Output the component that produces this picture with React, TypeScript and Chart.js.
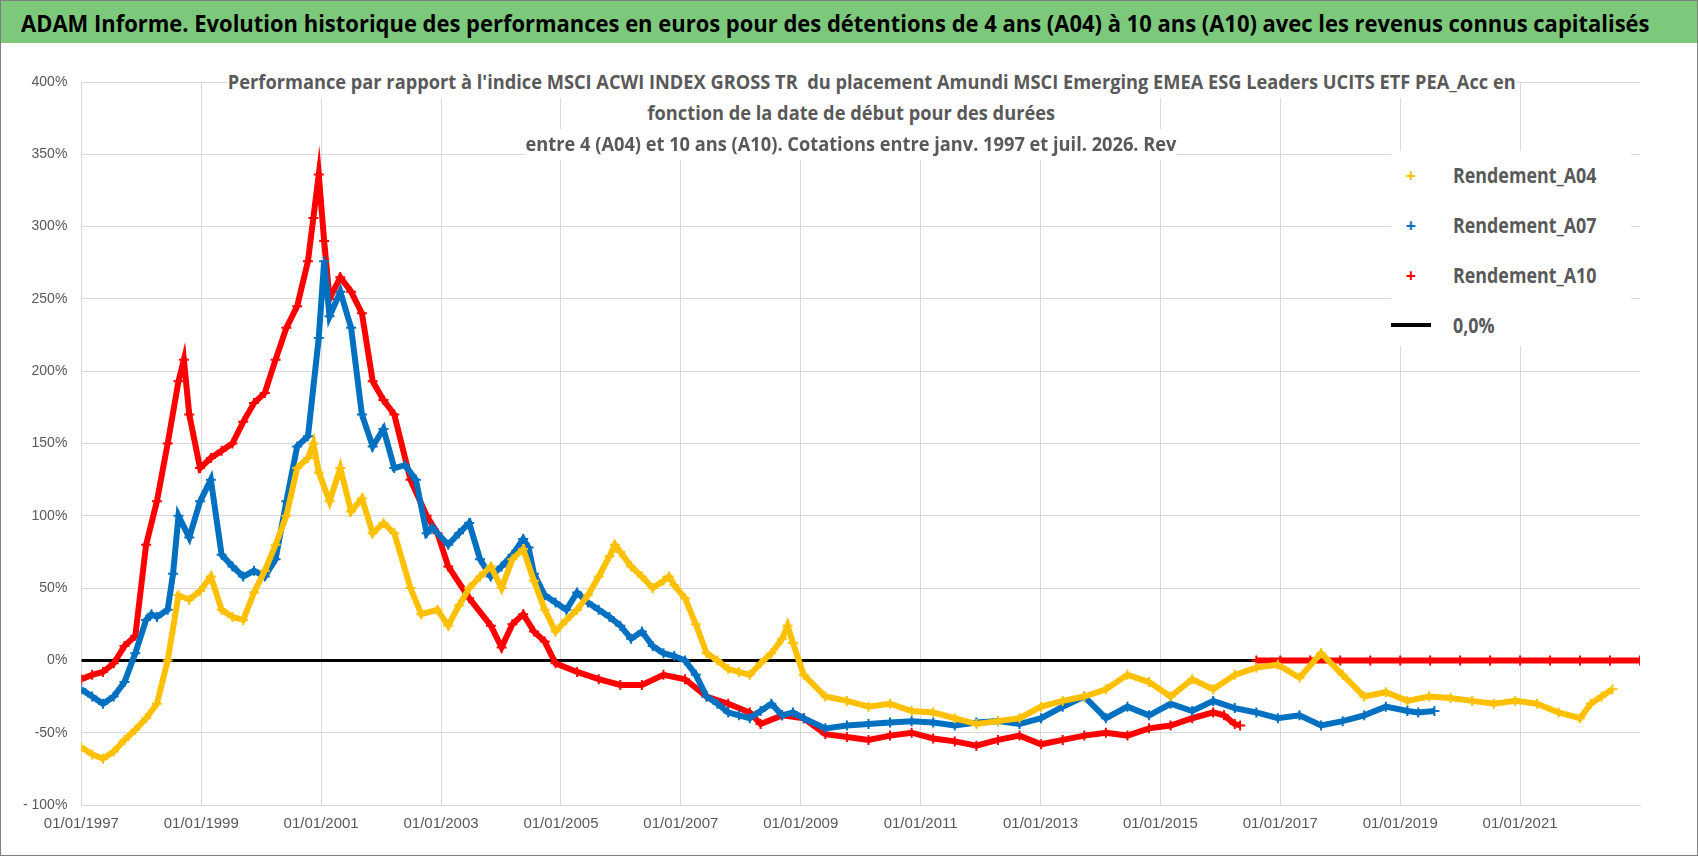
import { useEffect, useRef } from 'react';
import Chart from 'chart.js/auto';

// years from 01/01/1997, values in %
const yearsA04 = [0, 0.18, 0.36, 0.54, 0.72, 0.9, 1.08, 1.26, 1.44, 1.62, 1.8, 1.98, 2.16, 2.34, 2.52, 2.7, 2.88, 3.06, 3.24, 3.42, 3.6, 3.78, 3.87, 3.96, 4.14, 4.32, 4.5, 4.68, 4.86, 5.04, 5.22, 5.49, 5.67, 5.94, 6.12, 6.3, 6.47, 6.65, 6.83, 7.01, 7.19, 7.37, 7.55, 7.73, 7.91, 8.09, 8.27, 8.45, 8.63, 8.81, 8.9, 8.99, 9.17, 9.35, 9.53, 9.71, 9.8, 9.89, 10.07, 10.25, 10.43, 10.61, 10.79, 10.97, 11.15, 11.33, 11.51, 11.69, 11.78, 11.87, 12.05, 12.41, 12.77, 13.13, 13.49, 13.85, 14.21, 14.57, 14.93, 15.29, 15.65, 16.01, 16.37, 16.73, 17.09, 17.45, 17.81, 18.17, 18.53, 18.88, 19.24, 19.6, 19.96, 20.32, 20.68, 21.04, 21.4, 21.76, 22.12, 22.48, 22.84, 23.2, 23.56, 23.92, 24.28, 24.64, 25.0, 25.18, 25.36, 25.54];
const valuesA04 = [-60, -65, -68, -63, -55, -48, -40, -30, 0, 45, 42, 48, 58, 35, 30, 28, 47, 62, 80, 100, 133, 140, 150, 130, 110, 133, 103, 112, 88, 95, 88, 50, 32, 35, 24, 38, 50, 58, 65, 50, 70, 77, 55, 35, 20, 28, 35, 45, 58, 72, 80, 75, 65, 58, 50, 55, 58, 52, 43, 25, 5, 0, -6, -8, -10, -2, 5, 15, 24, 12, -10, -25, -28, -32, -30, -35, -36, -40, -44, -42, -40, -32, -28, -25, -20, -10, -15, -25, -13, -20, -10, -5, -3, -12, 5, -10, -25, -22, -28, -25, -26, -28, -30, -28, -30, -36, -40, -30, -25, -20, -13, -8, -22];
const yearsA07 = [0, 0.18, 0.36, 0.54, 0.72, 0.9, 1.08, 1.17, 1.26, 1.44, 1.53, 1.62, 1.8, 1.98, 2.16, 2.34, 2.52, 2.7, 2.88, 3.06, 3.24, 3.42, 3.6, 3.78, 3.96, 4.05, 4.14, 4.32, 4.5, 4.68, 4.86, 5.04, 5.22, 5.4, 5.58, 5.76, 5.85, 6.12, 6.3, 6.47, 6.65, 6.83, 7.01, 7.19, 7.37, 7.46, 7.55, 7.73, 7.91, 8.09, 8.27, 8.45, 8.63, 8.81, 8.99, 9.17, 9.35, 9.53, 9.71, 9.89, 10.07, 10.25, 10.43, 10.61, 10.79, 10.97, 11.15, 11.33, 11.51, 11.69, 11.87, 12.05, 12.41, 12.77, 13.13, 13.49, 13.85, 14.21, 14.57, 14.93, 15.29, 15.65, 16.01, 16.37, 16.73, 17.09, 17.45, 17.81, 18.17, 18.53, 18.88, 19.24, 19.6, 19.96, 20.32, 20.68, 21.04, 21.4, 21.76, 22.12, 22.3, 22.57];
const valuesA07 = [-20, -25, -30, -25, -15, 5, 28, 32, 30, 35, 60, 100, 85, 110, 125, 73, 65, 58, 62, 58, 70, 110, 148, 155, 223, 276, 238, 255, 230, 170, 148, 160, 133, 135, 125, 88, 92, 80, 88, 95, 70, 58, 65, 73, 84, 78, 60, 45, 40, 35, 47, 40, 35, 30, 24, 15, 20, 10, 5, 3, 0, -10, -25, -30, -36, -38, -40, -35, -30, -38, -36, -40, -47, -45, -44, -43, -42, -43, -45, -43, -42, -44, -40, -32, -25, -40, -32, -38, -30, -35, -28, -33, -36, -40, -38, -45, -42, -38, -32, -35, -36, -35, -38];
const yearsA10 = [0, 0.18, 0.36, 0.54, 0.72, 0.9, 1.08, 1.26, 1.44, 1.62, 1.71, 1.8, 1.98, 2.16, 2.34, 2.52, 2.7, 2.88, 3.06, 3.24, 3.42, 3.6, 3.78, 3.87, 3.96, 4.05, 4.14, 4.32, 4.5, 4.68, 4.86, 5.04, 5.22, 5.49, 5.76, 5.94, 6.12, 6.47, 6.83, 7.01, 7.19, 7.37, 7.55, 7.73, 7.91, 8.27, 8.63, 8.99, 9.35, 9.71, 10.07, 10.43, 10.79, 11.15, 11.33, 11.69, 12.05, 12.41, 12.77, 13.13, 13.49, 13.85, 14.21, 14.57, 14.93, 15.29, 15.65, 16.01, 16.37, 16.73, 17.09, 17.45, 17.81, 18.17, 18.53, 18.88, 19.06, 19.24, 19.33];
const valuesA10 = [-13, -10, -8, -2, 10, 17, 80, 110, 150, 193, 208, 170, 133, 140, 145, 150, 165, 178, 185, 208, 230, 245, 276, 306, 336, 290, 250, 265, 255, 240, 193, 180, 170, 125, 100, 88, 65, 43, 24, 9, 25, 32, 20, 13, -2, -8, -13, -17, -17, -10, -13, -25, -30, -36, -44, -38, -40, -51, -53, -55, -52, -50, -54, -56, -59, -55, -52, -58, -55, -52, -50, -52, -47, -45, -40, -36, -38, -44, -45];
const yearsA10Zero = [19.6, 20, 20.5, 21, 21.5, 22, 22.5, 23, 23.5, 24, 24.5, 25, 25.5, 26];
const valuesA10Zero = [0, 0, 0, 0, 0, 0, 0, 0, 0, 0, 0, 0, 0, 0];
const zeroYears = [0, 26];
const zeroValues = [0, 0];

const START = 1997;
const FONT = "'Open Sans', 'Liberation Sans', sans-serif";
const pts = (ys: number[], vs: number[]) => ys.map((y, i) => ({ x: START + y, y: vs[i] }));

const series = (label: string, color: string, data: any[]) => ({
  label,
  data,
  borderColor: color,
  backgroundColor: color,
  showLine: true,
  borderWidth: 6,
  pointStyle: 'cross' as const,
  pointRadius: 5,
  pointBorderWidth: 2,
});

const legendItems = [
  { label: 'Rendement_A04', color: '#FFC000' },
  { label: 'Rendement_A07', color: '#0070C0' },
  { label: 'Rendement_A10', color: '#FF0000' },
];

const narrow = (s: number) => ({ display: 'inline-block', transform: `scaleX(${s})`, transformOrigin: 'left center', whiteSpace: 'nowrap' as const });

export default function App() {
  const canvasRef = useRef<HTMLCanvasElement | null>(null);

  useEffect(() => {
    if (!canvasRef.current) return;
    const chart = new Chart(canvasRef.current, {
      type: 'scatter',
      data: {
        datasets: [
          { label: '0,0%', data: pts(zeroYears, zeroValues), borderColor: '#000', backgroundColor: '#000', showLine: true, borderWidth: 3, pointRadius: 0, order: 10 },
          series('Rendement_A04', '#FFC000', pts(yearsA04, valuesA04)),
          series('Rendement_A07', '#0070C0', pts(yearsA07, valuesA07)),
          series('Rendement_A10', '#FF0000', pts(yearsA10, valuesA10)),
          series('Rendement_A10_0', '#FF0000', pts(yearsA10Zero, valuesA10Zero)),
        ] as any,
      },
      options: {
        animation: false,
        responsive: false,
        maintainAspectRatio: false,
        layout: { padding: { top: 39, right: 57, left: 8, bottom: 12 } },
        plugins: { legend: { display: false }, tooltip: { enabled: false } },
        scales: {
          x: {
            type: 'linear',
            min: 1997,
            max: 2023,
            afterBuildTicks: (axis: any) => {
              axis.ticks = [1997, 1999, 2001, 2003, 2005, 2007, 2009, 2011, 2013, 2015, 2017, 2019, 2021].map((v) => ({ value: v }));
            },
            ticks: { callback: (v: any) => `01/01/${v}`, color: '#595959', font: { family: "'Liberation Sans', sans-serif", size: 15 }, maxRotation: 0, padding: 10 },
            grid: { color: '#d9d9d9', drawTicks: false },
            border: { color: '#d9d9d9' },
          },
          y: {
            min: -100,
            max: 400,
            ticks: {
              stepSize: 50,
              callback: (v: any) => (v === -100 ? '- 100%' : `${v}%`),
              color: '#595959',
              font: { family: "'Liberation Sans', sans-serif", size: 14 },
              padding: 14,
            },
            grid: { color: '#d9d9d9', drawTicks: false },
            border: { display: false },
          },
        },
      },
    });
    return () => chart.destroy();
  }, []);

  return (
    <div style={{ position: 'fixed', left: 0, top: 0, width: 1698, height: 856, background: '#fff', fontFamily: FONT, boxSizing: 'border-box', border: '1px solid #7f7f7f', overflow: 'hidden' }}>
      <div style={{ height: 42, background: '#7dc97c', display: 'flex', alignItems: 'center', paddingLeft: 20, fontWeight: 'bold', fontSize: 24, color: '#000', whiteSpace: 'nowrap' }}>
        <span style={narrow(0.915)}>ADAM Informe. Evolution historique des performances en euros pour des détentions de 4 ans (A04) à 10 ans (A10) avec les revenus connus capitalisés</span>
      </div>
      <canvas ref={canvasRef} width={1696} height={812} style={{ display: 'block' }} />
      <div style={{ position: 'absolute', left: 200, top: 66, width: 1300, height: 92, fontWeight: 'bold', fontSize: 19, lineHeight: '31px', color: '#595959' }}>
        {[
          "Performance par rapport à l'indice MSCI ACWI INDEX GROSS TR  du placement Amundi MSCI Emerging EMEA ESG Leaders UCITS ETF PEA_Acc en",
          'fonction de la date de début pour des durées',
          'entre 4 (A04) et 10 ans (A10). Cotations entre janv. 1997 et juil. 2026. Rev',
        ].map((t, i) => (
          <div key={i} style={{ textAlign: 'center', width: 1300 }}>
            <span style={{ display: 'inline-block', transform: 'scaleX(0.96)', transformOrigin: 'center', whiteSpace: 'pre', background: '#fff' }}>{t}</span>
          </div>
        ))}
      </div>
      <div style={{ position: 'absolute', left: 1390, top: 150, width: 240, height: 195, background: '#fff', fontWeight: 'bold', fontSize: 21, color: '#595959' }}>
        {legendItems.map((it, i) => (
          <div key={it.label} style={{ position: 'absolute', top: 10 + i * 50, left: 0, display: 'flex', alignItems: 'center' }}>
            <span style={{ color: it.color, width: 40, textAlign: 'center', fontSize: 18 }}>+</span>
            <span style={{ marginLeft: 22, ...narrow(0.85) }}>{it.label}</span>
          </div>
        ))}
        <div style={{ position: 'absolute', top: 160, left: 0, display: 'flex', alignItems: 'center' }}>
          <span style={{ display: 'inline-block', width: 40, height: 4, background: '#000' }} />
          <span style={{ marginLeft: 22, ...narrow(0.85) }}>0,0%</span>
        </div>
      </div>
    </div>
  );
}
